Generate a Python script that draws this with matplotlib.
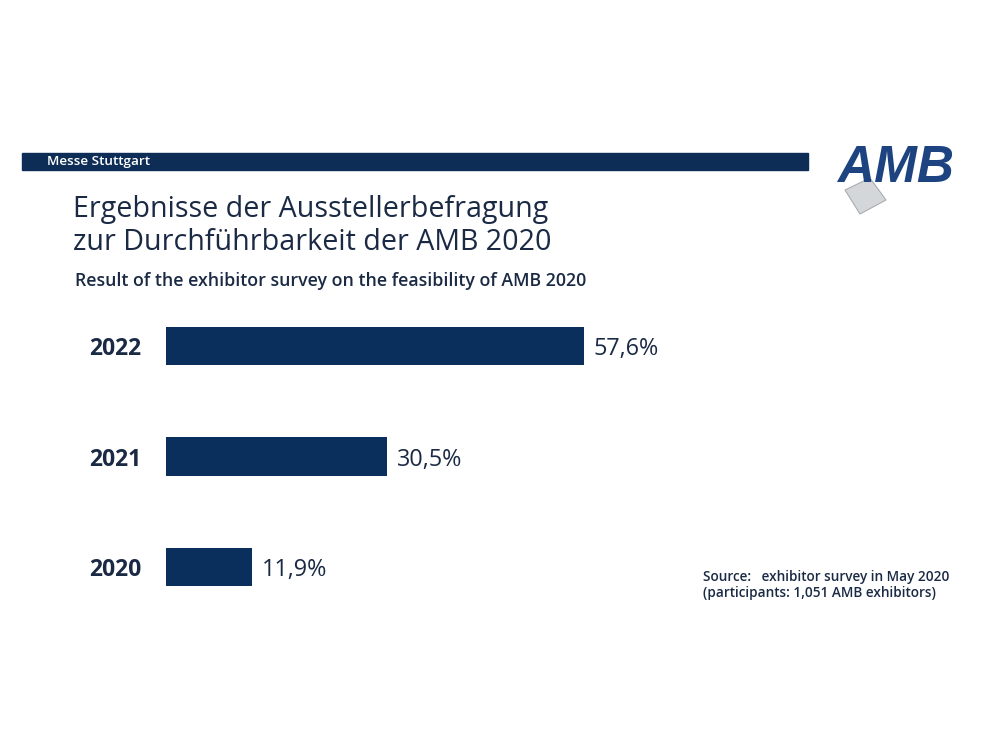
import matplotlib
matplotlib.use('Agg')
from matplotlib import pyplot as plt
from matplotlib.patches import Rectangle, Polygon

# data
years = ['2020', '2021', '2022']
shares = [11.9, 30.5, 57.6]
value_labels = ['11,9%', '30,5%', '57,6%']

navy = '#0a2f5c'
text_dark = '#1b2a44'

plt.rcParams['font.family'] = ['Open Sans', 'DejaVu Sans']

fig = plt.figure(figsize=(10, 7.5), dpi=100)
fig.patch.set_facecolor('white')

# header band
fig.patches.append(Rectangle((0.022, 1 - 170 / 750), 0.786, 17 / 750,
                             transform=fig.transFigure, color='#0d2d57', zorder=1))
fig.text(0.047, 1 - 161.5 / 750, 'Messe Stuttgart', color='white', fontsize=9.7,
         fontweight='semibold', va='center', ha='left', zorder=2)

# logo: gray tool shape plus italic lettering
fig.patches.append(Polygon([(0.845, 1 - 190 / 750), (0.870, 1 - 178 / 750),
                            (0.886, 1 - 200 / 750), (0.860, 1 - 214 / 750)],
                           closed=True, transform=fig.transFigure,
                           facecolor='#d4d7da', edgecolor='#a8adb2', lw=0.8, zorder=1))
fig.text(0.954, 1 - 168 / 750, 'AMB', color='#1d4480', fontsize=37, fontweight='bold',
         style='italic', va='center', ha='right', family='Liberation Sans', zorder=2)

# titles
fig.text(0.073, 1 - 210 / 750, 'Ergebnisse der Ausstellerbefragung', color=text_dark,
         fontsize=20.6, va='center', ha='left')
fig.text(0.073, 1 - 242 / 750, 'zur Durchführbarkeit der AMB 2020', color=text_dark,
         fontsize=20.6, va='center', ha='left')
fig.text(0.075, 1 - 281 / 750, 'Result of the exhibitor survey on the feasibility of AMB 2020',
         color=text_dark, fontsize=12.8, fontweight='semibold', va='center', ha='left')

# bar chart
ax = fig.add_axes([0.166, 0.1703, 0.5806, 0.442])
ypos = list(range(len(years)))
ax.barh(ypos, shares, height=0.35, color=navy)
for y, v, lab in zip(ypos, shares, value_labels):
    ax.text(v + 1.3, y - 0.03, lab, va='center', ha='left', fontsize=16.8, color=text_dark)
ax.set_xlim(0, 80)
ax.set_ylim(-0.5, 2.5)
ax.set_yticks(ypos)
ax.set_yticklabels(years, fontsize=16.5, fontweight='bold', color=text_dark)
ax.tick_params(axis='y', length=0, pad=18)
ax.set_xticks([])
for s in ax.spines.values():
    s.set_visible(False)

# source note
fig.text(0.703, 1 - 577 / 750, 'Source:   exhibitor survey in May 2020', color=text_dark,
         fontsize=9.8, fontweight='semibold', va='center', ha='left')
fig.text(0.703, 1 - 593 / 750, '(participants: 1,051 AMB exhibitors)', color=text_dark,
         fontsize=9.8, fontweight='semibold', va='center', ha='left')

plt.savefig('out.png', dpi=100)
